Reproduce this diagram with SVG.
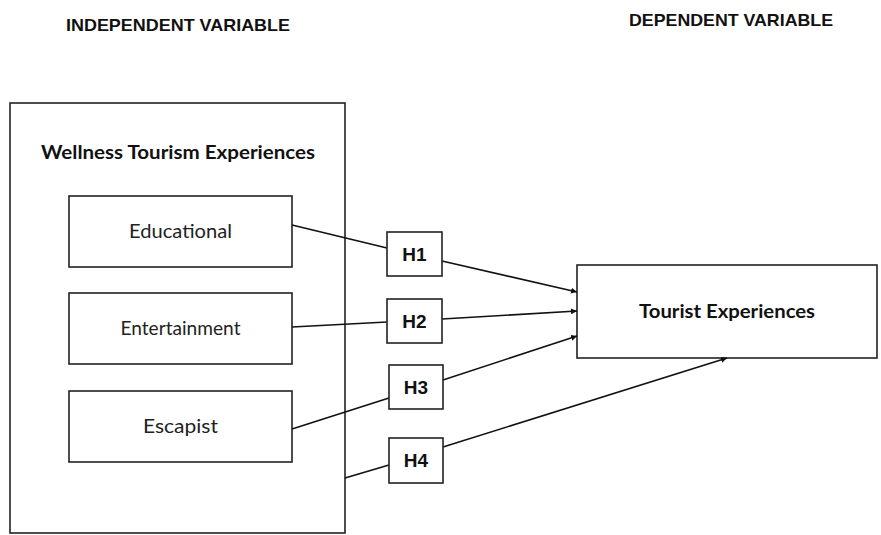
<svg xmlns="http://www.w3.org/2000/svg" width="881" height="535" viewBox="0 0 881 535">
<defs>
<marker id="arr" viewBox="0 0 10 10" refX="10" refY="5" markerWidth="6" markerHeight="6" orient="auto" markerUnits="userSpaceOnUse"><path d="M0,0 L10,5 L0,10 z" fill="#111"/></marker>
<style>
.box{fill:#fff;stroke:#222;stroke-width:1.6}
.hd{font-family:"Liberation Sans",Arial,sans-serif;font-weight:bold;font-size:17px;fill:#111}
.ttl{font-family:"Lato","Liberation Sans",sans-serif;font-weight:bold;font-size:18px;fill:#111}
.lbl{font-family:"Lato","Liberation Sans",sans-serif;font-size:19px;fill:#222}
.h{font-family:"Liberation Sans",Arial,sans-serif;font-weight:bold;font-size:19px;fill:#111}
.ln{stroke:#111;stroke-width:1.6;fill:none}
</style>
</defs>
<rect width="881" height="535" fill="#fff"/>
<text class="hd" x="66" y="31" textLength="224" lengthAdjust="spacingAndGlyphs">INDEPENDENT VARIABLE</text>
<text class="hd" x="629" y="26" textLength="204" lengthAdjust="spacingAndGlyphs">DEPENDENT VARIABLE</text>
<g id="wellness">
<rect class="box" x="10" y="103" width="335" height="430"/>
<text class="ttl" x="178" y="159" text-anchor="middle" textLength="274" lengthAdjust="spacingAndGlyphs">Wellness Tourism Experiences</text>
</g>
<g id="educational"><rect class="box" x="69" y="196" width="223" height="71"/><text class="lbl" x="180.5" y="238" text-anchor="middle" textLength="103" lengthAdjust="spacingAndGlyphs">Educational</text></g>
<g id="entertainment"><rect class="box" x="69" y="293" width="223" height="71"/><text class="lbl" x="180.5" y="335" text-anchor="middle" textLength="120" lengthAdjust="spacingAndGlyphs">Entertainment</text></g>
<g id="escapist"><rect class="box" x="69" y="391" width="223" height="71"/><text class="lbl" x="180.5" y="433" text-anchor="middle" textLength="75" lengthAdjust="spacingAndGlyphs">Escapist</text></g>
<g id="tourist"><rect class="box" x="577" y="265" width="300" height="93"/><text class="ttl" x="727" y="318" text-anchor="middle" textLength="176" lengthAdjust="spacingAndGlyphs">Tourist Experiences</text></g>
<g id="connectors">
<path class="ln" d="M292,225 L387,248"/>
<path class="ln" d="M442,261 L577,292" marker-end="url(#arr)"/>
<path class="ln" d="M292,327 L387,322"/>
<path class="ln" d="M442,319 L577,311" marker-end="url(#arr)"/>
<path class="ln" d="M292,429 L389,398"/>
<path class="ln" d="M443,380 L577,336" marker-end="url(#arr)"/>
<path class="ln" d="M345,478 L389,465"/>
<path class="ln" d="M443,447 L727,358" marker-end="url(#arr)"/>
</g>
<g id="h1"><rect class="box" x="387" y="232" width="55" height="44"/><text class="h" x="414.5" y="261" text-anchor="middle">H1</text></g>
<g id="h2"><rect class="box" x="387" y="299" width="55" height="44"/><text class="h" x="414.5" y="328" text-anchor="middle">H2</text></g>
<g id="h3"><rect class="box" x="389" y="365" width="54" height="44"/><text class="h" x="416" y="394" text-anchor="middle">H3</text></g>
<g id="h4"><rect class="box" x="389" y="438" width="54" height="45"/><text class="h" x="416" y="467" text-anchor="middle">H4</text></g>
</svg>
